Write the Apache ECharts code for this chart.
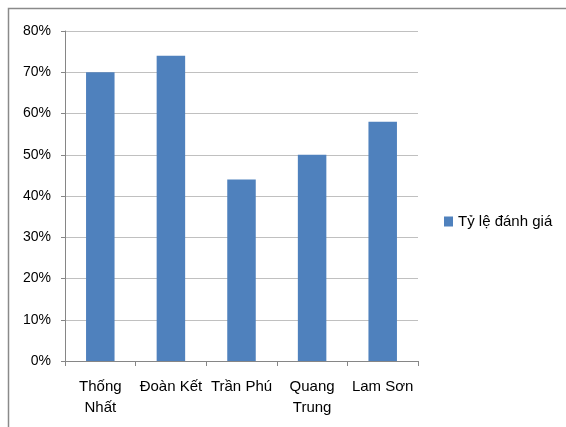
<!DOCTYPE html>
<html>
<head>
<meta charset="utf-8">
<script src="https://cdn.jsdelivr.net/npm/echarts@6/dist/echarts.min.js"></script>
<style>
  html, body { margin: 0; padding: 0; background: #fff; }
  #chart { width: 566px; height: 427px; }
</style>
</head>
<body>
<div id="chart"></div>
<script>
// Rating rate by school
const categories = ['Thống\nNhất', 'Đoàn Kết', 'Trần Phú', 'Quang\nTrung', 'Lam Sơn'];
const ratingValues = [70, 74, 44, 50, 58];
const seriesName = 'Tỷ lệ đánh giá';

const chart = echarts.init(document.getElementById('chart'));
const font = 'Liberation Sans, Arial, sans-serif';

chart.setOption({
  animation: false,
  backgroundColor: '#ffffff',
  textStyle: { fontFamily: font },
  graphic: [{
    type: 'rect',
    silent: true,
    shape: { x: 8.5, y: 8.5, width: 700, height: 600 },
    style: { fill: 'none', stroke: '#8a8a8a', lineWidth: 1.5 }
  }],
  grid: { left: 65, right: 148, top: 31, bottom: 66, containLabel: false },
  legend: {
    show: true,
    data: [seriesName],
    left: 439,
    top: 209,
    orient: 'vertical',
    icon: 'rect',
    itemWidth: 9,
    itemHeight: 10,
    textStyle: { fontFamily: font, fontSize: 15, color: '#000' }
  },
  xAxis: {
    type: 'category',
    data: categories,
    boundaryGap: true,
    axisLine: { show: true, lineStyle: { color: '#868686', width: 1 } },
    axisTick: { show: true, length: 5, lineStyle: { color: '#868686' } },
    axisLabel: {
      interval: 0,
      margin: 15,
      fontFamily: font,
      fontSize: 15,
      lineHeight: 21,
      color: '#000'
    }
  },
  yAxis: {
    type: 'value',
    min: 0,
    max: 80,
    interval: 10,
    axisLine: { show: true, lineStyle: { color: '#868686', width: 1 } },
    axisTick: { show: true, length: 4, lineStyle: { color: '#868686' } },
    splitLine: { show: true, lineStyle: { color: '#c0c0c0', width: 1 } },
    axisLabel: {
      formatter: '{value}%',
      margin: 14,
      fontFamily: font,
      fontSize: 14,
      color: '#000'
    }
  },
  series: [{
    name: seriesName,
    type: 'bar',
    data: ratingValues,
    barWidth: 28.5,
    itemStyle: { color: '#4f81bd' }
  }]
});
</script>
</body>
</html>
